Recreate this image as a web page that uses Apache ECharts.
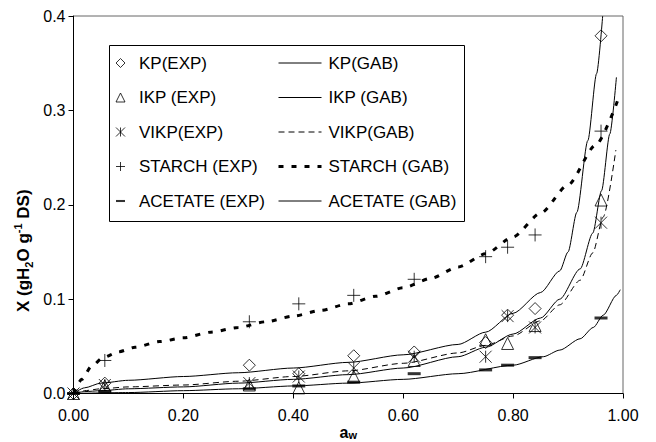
<!DOCTYPE html>
<html>
<head>
<meta charset="utf-8">
<script src="https://cdn.jsdelivr.net/npm/echarts@6/dist/echarts.min.js"></script>
<style>
html,body{margin:0;padding:0;background:#fff;}
#chart{width:656px;height:442px;}
</style>
</head>
<body>
<div id="chart"></div>
<script>
// ---- data ----
const expAw = [0, 0.057, 0.32, 0.41, 0.51, 0.62, 0.75, 0.79, 0.84, 0.96];
const kpExp = [0, 0.011, 0.030, 0.021, 0.040, 0.044, 0.054, 0.083, 0.090, 0.379];
const ikpExp = [0, 0.008, 0.009, 0.006, 0.018, 0.035, 0.057, 0.053, 0.072, 0.205];
const vikpExp = [0, 0.009, 0.011, 0.018, 0.027, 0.039, 0.039, 0.082, 0.070, 0.181];
const starchExp = [0, 0.035, 0.076, 0.095, 0.104, 0.121, 0.145, 0.155, 0.168, 0.278];
const acetateExp = [0, 0.002, 0.005, 0.008, 0.012, 0.021, 0.025, 0.030, 0.038, 0.080];

const kpGabAw = [0, 0.02, 0.05, 0.1, 0.2, 0.3, 0.4, 0.5, 0.6, 0.7, 0.75, 0.8, 0.85, 0.885, 0.9, 0.916, 0.936, 0.952, 0.963];
const kpGab = [0, 0.006, 0.011, 0.014, 0.018, 0.022, 0.027, 0.033, 0.041, 0.052, 0.065, 0.085, 0.107, 0.130, 0.150, 0.192, 0.268, 0.339, 0.400];

const ikpGabAw = [0, 0.02, 0.05, 0.1, 0.2, 0.3, 0.4, 0.5, 0.6, 0.7, 0.75, 0.8, 0.85, 0.885, 0.922, 0.945, 0.961, 0.976, 0.988];
const ikpGab = [0, 0.002, 0.003, 0.005, 0.007, 0.011, 0.015, 0.020, 0.027, 0.039, 0.049, 0.063, 0.080, 0.100, 0.132, 0.170, 0.215, 0.275, 0.335];

const vikpGabAw = [0, 0.02, 0.05, 0.1, 0.2, 0.3, 0.4, 0.5, 0.6, 0.7, 0.75, 0.8, 0.85, 0.885, 0.922, 0.945, 0.964, 0.987];
const vikpGab = [0, 0.003, 0.005, 0.007, 0.009, 0.013, 0.018, 0.024, 0.032, 0.043, 0.051, 0.061, 0.077, 0.094, 0.120, 0.149, 0.187, 0.258];

const starchGabAw = [0, 0.015, 0.033, 0.054, 0.081, 0.112, 0.157, 0.2, 0.25, 0.3, 0.35, 0.4, 0.45, 0.5, 0.55, 0.6, 0.65, 0.7, 0.75, 0.8, 0.85, 0.9, 0.95, 0.99];
const starchGab = [0, 0.015, 0.029, 0.038, 0.044, 0.049, 0.055, 0.059, 0.065, 0.070, 0.076, 0.082, 0.088, 0.095, 0.103, 0.112, 0.122, 0.134, 0.148, 0.166, 0.191, 0.221, 0.263, 0.310];

const acetateGabAw = [0, 0.1, 0.2, 0.3, 0.4, 0.5, 0.6, 0.7, 0.8, 0.855, 0.885, 0.922, 0.946, 0.964, 0.988, 0.995];
const acetateGab = [0, 0.001, 0.003, 0.005, 0.008, 0.011, 0.015, 0.021, 0.030, 0.039, 0.046, 0.058, 0.070, 0.083, 0.104, 0.110];

const expNames = ['KP(EXP)', 'IKP (EXP)', 'VIKP(EXP)', 'STARCH (EXP)', 'ACETATE (EXP)'];
const gabNames = ['KP(GAB)', 'IKP (GAB)', 'VIKP(GAB)', 'STARCH (GAB)', 'ACETATE (GAB)'];
const xTicks = { min: 0, max: 1, interval: 0.2 };
const yTicks = { min: 0, max: 0.4, interval: 0.1 };

// ---- build ----
const FONT = 'Liberation Sans, Arial, sans-serif';
const pairs = (xs, ys) => xs.map((x, i) => [x, ys[i]]);

const hollow = { color: 'transparent', borderColor: '#000', borderWidth: 1 };
const DASH_PATH = 'path://M0,0L13,0L13,3L0,3Z';
const expSeries = [
  { name: expNames[0], data: pairs(expAw, kpExp), symbol: 'diamond', symbolSize: 12, itemStyle: hollow },
  { name: expNames[1], data: pairs(expAw, ikpExp), symbol: 'triangle', symbolSize: 12, itemStyle: hollow },
  { name: expNames[2], data: pairs(expAw, vikpExp), symbol: 'path://M0,0L10,10M10,0L0,10M5,0L5,10', symbolSize: 12, itemStyle: hollow },
  { name: expNames[3], data: pairs(expAw, starchExp), symbol: 'path://M5,0L5,10M0,5L10,5', symbolSize: 13, itemStyle: hollow },
  { name: expNames[4], data: pairs(expAw, acetateExp), symbol: 'rect', symbolSize: [13, 3], itemStyle: { color: '#000', borderWidth: 0 } }
].map(s => Object.assign({ type: 'scatter', clip: false, z: 5, silent: true }, s));

const gabStyles = [
  { color: '#000', width: 1, type: 'solid' },
  { color: '#000', width: 1, type: 'solid' },
  { color: '#000', width: 1, type: [6, 4] },
  { color: '#000', width: 3, type: [5, 8] },
  { color: '#000', width: 1, type: 'solid' }
];
const gabData = [
  pairs(kpGabAw, kpGab), pairs(ikpGabAw, ikpGab), pairs(vikpGabAw, vikpGab),
  pairs(starchGabAw, starchGab), pairs(acetateGabAw, acetateGab)
];
const gabSeries = gabNames.map((n, i) => ({
  type: 'line', name: n, data: gabData[i], symbol: 'none', showSymbol: false,
  smooth: 0.25, smoothMonotone: 'x', color: '#000', z: 3, silent: true, lineStyle: gabStyles[i]
}));

const legendCommon = {
  orient: 'vertical', top: 53, itemGap: 14.5, itemHeight: 9, selectedMode: false, padding: 0,
  textStyle: { color: '#000', fontSize: 17, fontFamily: FONT, lineHeight: 20 }
};

const chart = echarts.init(document.getElementById('chart'), null, { renderer: 'svg' });
chart.setOption({
  animation: false,
  backgroundColor: '#fff',
  grid: { left: 73.5, right: 33, top: 16, bottom: 48.5, containLabel: false, outerBoundsMode: 'none',
          show: true, borderColor: '#666', borderWidth: 1, backgroundColor: 'transparent' },
  xAxis: {
    type: 'value', min: xTicks.min, max: xTicks.max, interval: xTicks.interval,
    name: '{a|a}{w|w}', nameLocation: 'middle', nameGap: 30, nameMoveOverlap: false,
    nameTextStyle: { rich: {
      a: { fontSize: 16, fontWeight: 'bold', fontFamily: FONT, color: '#000', lineHeight: 17 },
      w: { fontSize: 11, fontWeight: 'bold', fontFamily: FONT, color: '#000', lineHeight: 9, verticalAlign: 'bottom' }
    } },
    axisLine: { show: true, lineStyle: { color: '#000', width: 1 } },
    axisTick: { show: true, inside: false, length: 5, lineStyle: { color: '#000' } },
    axisLabel: { color: '#000', fontSize: 16, fontFamily: FONT, margin: 14, formatter: v => v.toFixed(2) },
    splitLine: { show: false }
  },
  yAxis: {
    type: 'value', min: yTicks.min, max: yTicks.max, interval: yTicks.interval,
    name: '{b|X (gH}{s|2}{b|O g}{p|-1}{b| DS)}', nameLocation: 'middle', nameGap: 39, nameMoveOverlap: false,
    nameTextStyle: { padding: [0, 92, 0, 0], rich: {
      b: { fontSize: 17, fontWeight: 'bold', fontFamily: FONT, color: '#000', lineHeight: 22 },
      s: { fontSize: 11, fontWeight: 'bold', fontFamily: FONT, color: '#000', lineHeight: 12, verticalAlign: 'bottom' },
      p: { fontSize: 11, fontWeight: 'bold', fontFamily: FONT, color: '#000', lineHeight: 12, verticalAlign: 'top' }
    } },
    axisLine: { show: true, lineStyle: { color: '#000', width: 1 } },
    axisTick: { show: true, inside: false, length: 5, lineStyle: { color: '#000' } },
    axisLabel: { color: '#000', fontSize: 16, fontFamily: FONT, margin: 8, formatter: v => v.toFixed(1) },
    splitLine: { show: false }
  },
  legend: [
    Object.assign({}, legendCommon, {
      left: 115.5, itemWidth: 9,
      data: expNames.map((n, i) => i === 4 ? { name: n, icon: DASH_PATH } : n),
      itemStyle: { borderWidth: 1 },
      textStyle: Object.assign({}, legendCommon.textStyle, { padding: [0, 0, 0, 9] })
    }),
    Object.assign({}, legendCommon, {
      left: 277, itemWidth: 43,
      data: gabNames.map((n, i) => ({ name: n, lineStyle: { width: gabStyles[i].width, type: gabStyles[i].type, color: '#000' } })),
      itemStyle: { opacity: 0 },
      textStyle: Object.assign({}, legendCommon.textStyle, { padding: [0, 0, 0, 2] })
    })
  ],
  graphic: [{
    type: 'rect', z: 3, silent: true,
    shape: { x: 109.5, y: 45.5, width: 355, height: 176 },
    style: { fill: '#fff', stroke: '#000', lineWidth: 1 }
  }],
  series: gabSeries.concat(expSeries)
});
</script>
</body>
</html>
